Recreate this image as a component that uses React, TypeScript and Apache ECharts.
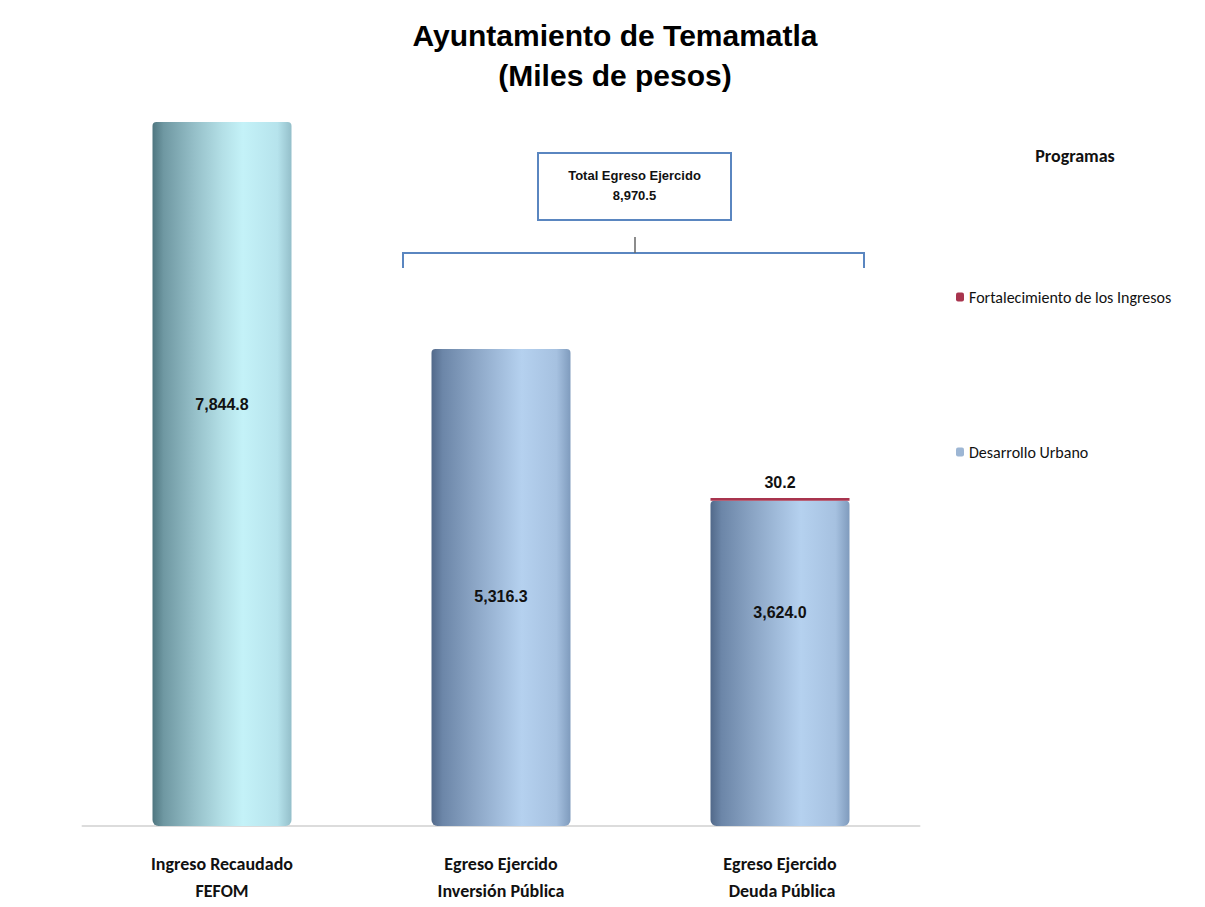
import React, { useEffect, useRef } from "react";
import * as echarts from "echarts";

const categories = ["Ingreso Recaudado\nFEFOM", "Egreso Ejercido\nInversión Pública", "Egreso Ejercido\n Deuda Pública"];
const desarrolloUrbano = [7844.8, 5316.3, 3624.0];
const fortalecimiento = [0, 0, 30.2];
const seriesNames = ["Fortalecimiento de los Ingresos", "Desarrollo Urbano"];
const titleText = "Ayuntamiento de Temamatla\n(Miles de pesos)";
const legendTitle = "Programas";
const totalLabel = "Total Egreso Ejercido";

const fmt = (v: number) =>
  v.toLocaleString("en-US", { minimumFractionDigits: 1, maximumFractionDigits: 1 });

const narrow = "'Liberation Sans Narrow', 'Arial Narrow', 'Liberation Sans', Arial, sans-serif";
const calibri = "Carlito, Calibri, 'Open Sans', 'Noto Sans', sans-serif";

const cyl = (c: string[]) =>
  new echarts.graphic.LinearGradient(0, 0, 1, 0, [
    { offset: 0, color: c[0] },
    { offset: 0.08, color: c[1] },
    { offset: 0.3, color: c[2] },
    { offset: 0.5, color: c[3] },
    { offset: 0.65, color: c[4] },
    { offset: 0.9, color: c[5] },
    { offset: 1, color: c[6] },
  ]);

export default function App() {
  const ref = useRef<HTMLDivElement>(null);
  useEffect(() => {
    document.body.style.margin = "0";
    const chart = echarts.init(ref.current!, null, { renderer: "svg" });
    const total = desarrolloUrbano[1] + desarrolloUrbano[2] + fortalecimiento[1] + fortalecimiento[2];
    const labelOffsets = [-69, 9, -51];
    const cyan = cyl(["#4f7680", "#6f98a2", "#95bfc8", "#b3dfe6", "#c4f2f8", "#b6e3ec", "#94bfca"]);
    const steel = cyl(["#52698a", "#6c86a8", "#8aa4c4", "#a3bedd", "#b5d1ef", "#a6c1e0", "#7f9bbd"]);
    const colors = [cyan, steel, steel];
    const blue = "#5a86c0";
    chart.setOption({
      animation: false,
      backgroundColor: "#ffffff",
      title: [
        {
          text: titleText,
          left: 610,
          textAlign: "center",
          top: 10,
          textStyle: {
            fontFamily: "'Liberation Sans', Arial, sans-serif",
            fontWeight: "bold",
            fontSize: 30,
            lineHeight: 40,
            color: "#000",
          },
        },
        {
          text: legendTitle,
          left: 1070,
          textAlign: "center",
          top: 142,
          textStyle: { fontFamily: calibri, fontWeight: "bold", fontSize: 18, color: "#111" },
        },
      ],
      legend: {
        data: seriesNames,
        orient: "vertical",
        left: 951,
        top: 284,
        itemGap: 139,
        itemWidth: 8,
        itemHeight: 9,
        textStyle: { fontFamily: calibri, fontSize: 16, color: "#111" },
      },
      grid: { left: 82.5, right: 1205 - 919.5, top: 18.3, bottom: 907 - 826 },
      xAxis: {
        type: "category",
        data: categories,
        axisLine: { lineStyle: { color: "#dcdcdc", width: 2 } },
        axisTick: { show: false },
        axisLabel: {
          margin: 24,
          fontFamily: calibri,
          fontWeight: "bold",
          fontSize: 18,
          lineHeight: 27,
          color: "#111",
        },
      },
      yAxis: { type: "value", min: 0, max: 9000, show: false, splitLine: { show: false } },
      series: [
        {
          name: seriesNames[1],
          type: "bar",
          stack: "t",
          barWidth: 139,
          itemStyle: { color: "#9db6d4" },
          data: desarrolloUrbano.map((v, i) => ({
            value: v,
            itemStyle: { color: colors[i], borderRadius: [4, 4, 6, 6] },
            label: {
              show: true,
              position: "inside",
              offset: [0, labelOffsets[i]],
              formatter: fmt(v),
              fontFamily: narrow,
              fontWeight: "bold",
              fontSize: 16,
              color: "#111",
            },
          })),
        },
        {
          name: seriesNames[0],
          type: "bar",
          stack: "t",
          barWidth: 139,
          itemStyle: { color: "#a8344e" },
          data: fortalecimiento.map((v) => ({
            value: v,
            label: {
              show: v > 0,
              position: "top",
              distance: 8,
              formatter: fmt(v),
              fontFamily: narrow,
              fontWeight: "bold",
              fontSize: 16,
              color: "#111",
            },
          })),
        },
      ],
      graphic: [
        {
          type: "rect",
          shape: { x: 538, y: 153, width: 193, height: 67 },
          style: { fill: "#fff", stroke: blue, lineWidth: 2 },
        },
        {
          type: "text",
          x: 634.5,
          y: 185,
          style: {
            text: totalLabel + "\n" + fmt(total),
            align: "center",
            verticalAlign: "middle",
            fontFamily: narrow,
            fontWeight: "bold",
            fontSize: 13,
            lineHeight: 20,
            fill: "#111",
          },
        },
        {
          type: "polyline",
          shape: { points: [[403, 268], [403, 253], [864, 253], [864, 268]] },
          style: { stroke: blue, lineWidth: 2, fill: null },
        },
        {
          type: "line",
          shape: { x1: 635, y1: 237, x2: 635, y2: 253 },
          style: { stroke: "#666", lineWidth: 1.5 },
        },
      ],
    });
    return () => chart.dispose();
  }, []);
  return <div ref={ref} style={{ width: 1205, height: 907 }} />;
}
